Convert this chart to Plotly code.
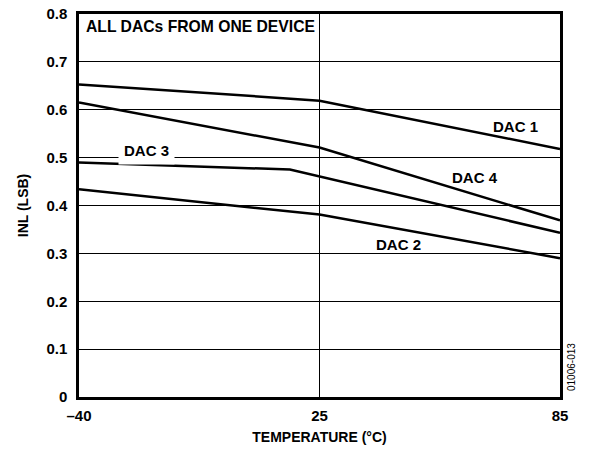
import numpy as np
import plotly.graph_objects as go

# Data (temperature in °C, INL in LSB)
temp_ticks = [-40, 25, 85]
tick_labels = ["\u201340", "25", "85"]

dac1_temp = [-40, 25, 85]
dac1_inl = [0.653, 0.619, 0.518]

dac4_temp = [-40, 25, 85]
dac4_inl = [0.615, 0.521, 0.369]

dac3_temp = [-40, 17, 85]
dac3_inl = [0.490, 0.475, 0.343]

dac2_temp = [-40, 25, 85]
dac2_inl = [0.434, 0.381, 0.290]

y_ticks = [0, 0.1, 0.2, 0.3, 0.4, 0.5, 0.6, 0.7, 0.8]
y_labels = ["0", "0.1", "0.2", "0.3", "0.4", "0.5", "0.6", "0.7", "0.8"]

# axis is drawn with the three temperatures evenly spaced (as in the original)
def pos(t):
    return np.interp(t, temp_ticks, [0, 1, 2])

FONT = "Liberation Sans, Arial, sans-serif"

fig = go.Figure()
for t, v in [(dac1_temp, dac1_inl), (dac4_temp, dac4_inl),
             (dac3_temp, dac3_inl), (dac2_temp, dac2_inl)]:
    fig.add_trace(go.Scatter(x=pos(t), y=v, mode="lines",
                             line=dict(color="black", width=2.5),
                             showlegend=False, hoverinfo="skip"))

ann_font = dict(family=FONT, size=15, color="black")
annotations = [
    dict(x=0.021, y=0.773, text="<b>ALL DACs FROM ONE DEVICE</b>", xanchor="left", yanchor="middle",
         font=dict(family=FONT, size=15.7, color="black")),
    dict(x=1.817, y=0.564, text="<b>DAC 1</b>", xanchor="center", yanchor="middle"),
    dict(x=1.647, y=0.4595, text="<b>DAC 4</b>", xanchor="center", yanchor="middle"),
    dict(x=1.330, y=0.319, text="<b>DAC 2</b>", xanchor="center", yanchor="middle"),
    dict(x=0.279, y=0.514, text="<b>DAC 3</b>", xanchor="center", yanchor="middle",
         bgcolor="white", borderpad=5),
]
for a in annotations:
    a.setdefault("font", ann_font)
    a.update(xref="x", yref="y", showarrow=False)
annotations.append(dict(x=(571 - 79) / 481, y=(397 - 367) / 383, xref="paper", yref="paper",
                        text="01006-013", showarrow=False, textangle=-90,
                        xanchor="center", yanchor="middle",
                        font=dict(family=FONT, size=10, color="black")))

fig.update_layout(
    width=591, height=449,
    margin=dict(l=79, r=31, t=14, b=52),
    plot_bgcolor="white", paper_bgcolor="white",
    annotations=annotations,
    xaxis=dict(range=[0, 2], tickvals=[0, 1, 2], ticktext=["<b>%s</b>" % s for s in tick_labels],
               automargin=False,
               showgrid=True, gridcolor="black", gridwidth=1,
               zeroline=False, showline=True, linecolor="black", linewidth=2.5, mirror=True,
               ticks="", ticklabelstandoff=3, tickfont=dict(family=FONT, size=15, color="black"),
               title=dict(text="<b>TEMPERATURE (°C)</b>", standoff=10,
                          font=dict(family=FONT, size=14, color="black"))),
    yaxis=dict(range=[0, 0.8], tickvals=y_ticks, ticktext=["<b>%s</b>" % s for s in y_labels],
               automargin=False,
               showgrid=True, gridcolor="black", gridwidth=1,
               zeroline=False, showline=True, linecolor="black", linewidth=2.5, mirror=True,
               ticks="", ticklabelstandoff=6,
               tickfont=dict(family=FONT, size=15, color="black"),
               title=dict(text="<b>INL (LSB)</b>", standoff=15,
                          font=dict(family=FONT, size=14, color="black"))),
)

fig.write_html("out.html", config={"displayModeBar": False},
               post_script="document.body.style.margin='0px';document.body.style.overflow='hidden';")
